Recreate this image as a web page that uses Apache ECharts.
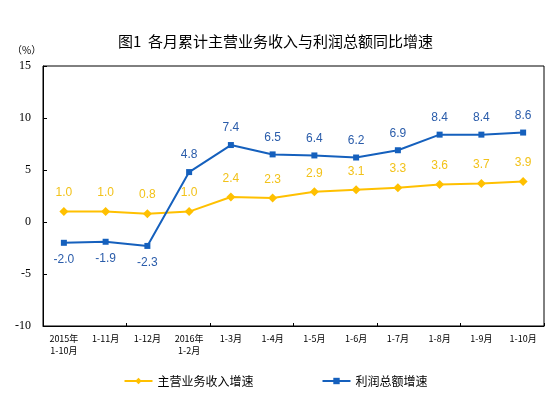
<!DOCTYPE html>
<html><head><meta charset="utf-8">
<script src="https://cdn.jsdelivr.net/npm/echarts@6/dist/echarts.min.js"></script>
<style>html,body{margin:0;padding:0;background:#fff}#c{width:551px;height:397px}</style>
</head><body><div id="c"></div>
<script>
var categories = ['2015年\n1-10月','1-11月','1-12月','2016年\n1-2月','1-3月','1-4月','1-5月','1-6月','1-7月','1-8月','1-9月','1-10月'];
var revenueGrowth = [1.0,1.0,0.8,1.0,2.4,2.3,2.9,3.1,3.3,3.6,3.7,3.9];
var profitGrowth = [-2.0,-1.9,-2.3,4.8,7.4,6.5,6.4,6.2,6.9,8.4,8.4,8.6];
var yTicks = [-10,-5,0,5,10,15];
var seriesNames = ['主营业务收入增速','利润总额增速'];

var chart = echarts.init(document.getElementById('c'));
var sans = '"Liberation Sans", "Noto Sans CJK SC", sans-serif';
chart.setOption({
  animation:false,
  title:{text:'图1  各月累计主营业务收入与利润总额同比增速',left:'center',top:29,
    textStyle:{fontSize:15,fontWeight:'normal',color:'#000',fontFamily:'"Noto Sans CJK SC", sans-serif'}},
  graphic:[{type:'text',left:12,top:45,style:{text:'（%）',fontSize:10,fill:'#000',fontFamily:'"Noto Sans CJK SC", serif'}}],
  grid:{left:43,right:7,top:66,bottom:71,show:true,borderColor:'#000',borderWidth:1,containLabel:false},
  legend:{bottom:5,left:'center',itemGap:68,itemWidth:28,itemHeight:8,
    textStyle:{fontSize:12,color:'#000',fontFamily:'"Noto Sans CJK SC", sans-serif'},
    data:seriesNames},
  xAxis:[{type:'category',data:categories,position:'bottom',
      axisLine:{show:false},axisTick:{show:false},
      axisLabel:{fontSize:9,color:'#000',margin:7,lineHeight:12,fontFamily:'"Noto Sans CJK SC", sans-serif',interval:0}},
    {type:'category',data:categories,position:'bottom',
      axisLine:{show:true,onZero:true,lineStyle:{color:'#000',width:1}},
      axisTick:{show:true,inside:true,length:3,lineStyle:{color:'#000'}},
      axisLabel:{show:false}}],
  yAxis:{type:'value',min:yTicks[0],max:yTicks[yTicks.length-1],interval:5,
    axisLine:{show:true,lineStyle:{color:'#000'}},
    axisTick:{show:true,inside:true,length:4,lineStyle:{color:'#000'}},
    splitLine:{show:false},
    axisLabel:{fontSize:12,color:'#000',margin:12,fontFamily:'"Liberation Serif", serif'}},
  series:[
    {name:seriesNames[0],type:'line',data:revenueGrowth,symbol:'diamond',symbolSize:9,
      itemStyle:{color:'#FFC000'},lineStyle:{color:'#FFC000',width:2},
      label:{show:true,position:'top',distance:8,fontSize:12,color:'#F2C21A',fontFamily:sans,
        formatter:function(p){return p.value.toFixed(1);}}},
    {name:seriesNames[1],type:'line',data:profitGrowth.map(function(v,i){
        return {value:v,label:{position:i<3?'bottom':'top'}};}),
      symbol:'rect',symbolSize:6,
      itemStyle:{color:'#1560BD'},lineStyle:{color:'#1560BD',width:2},
      label:{show:true,position:'top',distance:8,fontSize:12,color:'#2A5CAA',fontFamily:sans,
        formatter:function(p){return p.value.toFixed(1);}}}
  ]
});
</script></body></html>
